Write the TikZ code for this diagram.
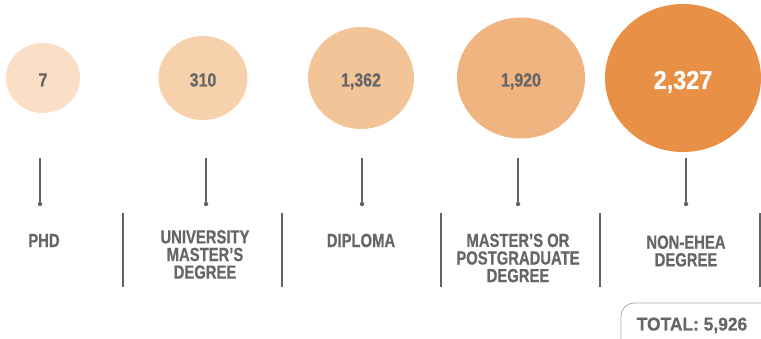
\documentclass[tikz,border=0pt]{standalone}
\usepackage{fontspec}
\usetikzlibrary{shapes.geometric}
\newfontfamily\labfont[FakeStretch=0.78,FakeBold=0.6]{Liberation Sans}
\newfontfamily\numfont[FakeStretch=0.84,FakeBold=0.6]{Liberation Sans}
\newfontfamily\bignumfont[FakeStretch=0.9,FakeBold=0.6]{Liberation Sans}
\newfontfamily\totfont[FakeStretch=0.94,FakeBold=0.6]{Liberation Sans}
\definecolor{txtgray}{RGB}{102,102,102}
\definecolor{linegray}{RGB}{100,100,100}
\definecolor{boxgray}{RGB}{170,170,170}
\definecolor{cA}{RGB}{250,222,198}
\definecolor{cB}{RGB}{247,208,172}
\definecolor{cC}{RGB}{243,196,151}
\definecolor{cD}{RGB}{240,180,128}
\definecolor{cE}{RGB}{232,144,69}
\tikzset{
  bubble/.style={ellipse,inner sep=0pt,draw=none},
  num/.style={inner sep=0pt,text=txtgray,font=\numfont\bfseries\fontsize{19}{19}\selectfont},
  stem/.style={draw=linegray,line width=1.4pt},
  sep/.style={draw=linegray,line width=1.6pt},
  dotend/.style={circle,fill=linegray,inner sep=0pt,minimum size=4.5pt},
  lab/.style={align=center,text=txtgray,inner sep=0pt,font=\labfont\bfseries\fontsize{19}{17.6}\selectfont},
  totbox/.style={draw=boxgray,line width=0.8pt,rounded corners=13pt}
}
\begin{document}
\begin{tikzpicture}[x=1pt,y=-1pt]
\useasboundingbox (0,0) rectangle (761,339);
\clip (0,0) rectangle (761,339);
% bubbles
\node[bubble,fill=cA,minimum width=74pt,minimum height=70pt] (c1) at (43,78) {};
\node[bubble,fill=cB,minimum width=89pt,minimum height=84pt] (c2) at (203,78) {};
\node[bubble,fill=cC,minimum width=106pt,minimum height=102pt] (c3) at (361,78) {};
\node[bubble,fill=cD,minimum width=128pt,minimum height=121pt] (c4) at (521,78) {};
\node[bubble,fill=cE,minimum width=156pt,minimum height=148pt] (c5) at (683,78) {};
\node[num,anchor=base] (n1) at ([yshift=-8.5pt]c1.center) {7};
\node[num,anchor=base] (n2) at ([yshift=-8.5pt]c2.center) {310};
\node[num,anchor=base] (n3) at ([yshift=-8.5pt]c3.center) {1,362};
\node[num,anchor=base] (n4) at ([yshift=-8.5pt]c4.center) {1,920};
\node[num,anchor=base,text=white,font=\bignumfont\bfseries\fontsize{26}{26}\selectfont] (n5) at ([yshift=-11pt]c5.center) {2,327};
% stems
\foreach \i/\x in {1/40,2/206,3/362,4/518,5/686}{
  \coordinate (t\i) at (\x,158);
  \node[dotend] (d\i) at (\x,204) {};
  \draw[stem] (t\i) -- (d\i.center);
}
% separators
\foreach \i/\x in {1/123,2/282,3/441,4/600,5/760}{
  \coordinate (sa\i) at (\x,213);
  \coordinate (sb\i) at (\x,287);
  \draw[sep] (sa\i) -- (sb\i);
}
% labels
\node[lab] (l1) at (44,240.5) {PHD};
\node[lab] (l2) at (205,254.5) {UNIVERSITY\\MASTER’S\\DEGREE};
\node[lab] (l3) at (361,240.5) {DIPLOMA};
\node[lab] (l4) at (518,258) {MASTER’S OR\\POSTGRADUATE\\DEGREE};
\node[lab] (l5) at (686,251) {NON-EHEA\\DEGREE};
% total
\draw[totbox] (621,303) rectangle (790,360);
\node[text=txtgray,inner sep=0pt,anchor=base,font=\totfont\bfseries\fontsize{18.5}{18.5}\selectfont] (tot) at (692,330.5) {TOTAL: 5,926};
\end{tikzpicture}
\end{document}
